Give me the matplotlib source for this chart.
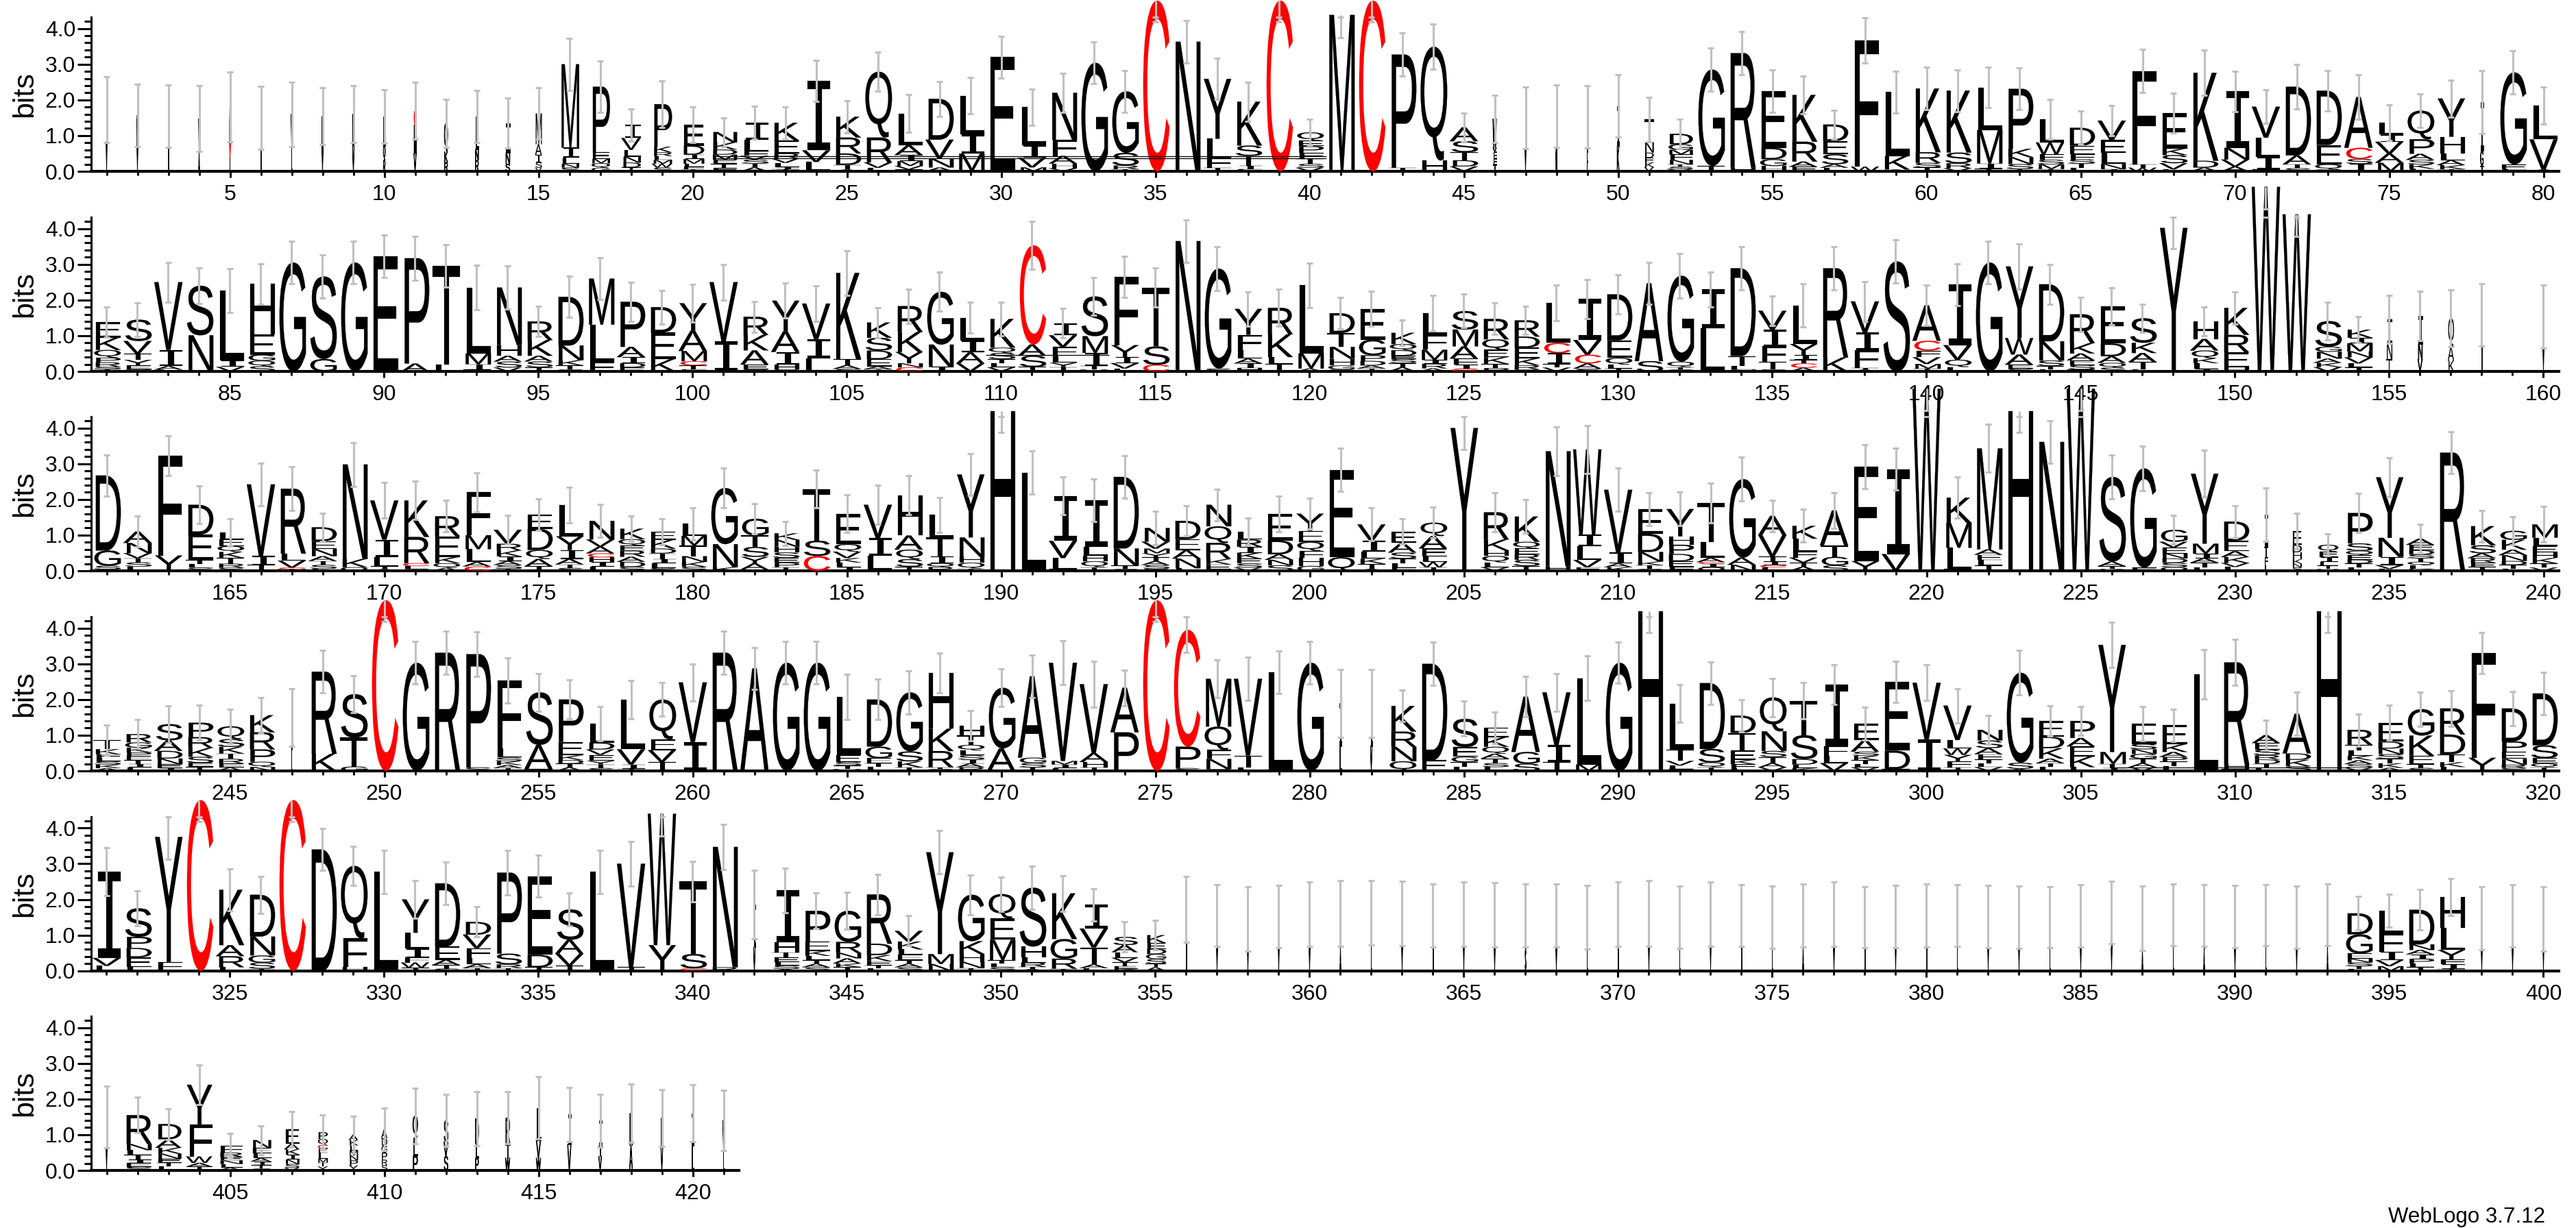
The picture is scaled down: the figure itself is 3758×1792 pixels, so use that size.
import matplotlib
matplotlib.use("Agg")
import matplotlib.pyplot as plt
from matplotlib.font_manager import FontProperties
from matplotlib.patches import PathPatch
from matplotlib.path import Path
from matplotlib.textpath import TextPath
from matplotlib.ticker import FixedLocator, FormatStrFormatter, MultipleLocator

# each stack is written top letter first, number = letter height in bits
STACKS_1 = [
    "L.85 V.8", "M.8 V.7", "L.8 I.7", "V.9 A.5", "C1.38 L.42", "L.9 I.6", "V.9 L.7", "M.8 V.7", "W.9 V.7", "L.8 Q.4 R.3",
    "C.4 M.8 V.5", "Q.8 K.3 R.25", "L.9 N.3 R.3", "I.8 N.3 S.2", "M.85 A.3 I.2 S.15 V.1", "M2.25 I.27 L.17 N.1 S.1", "P1.8 E.18 M.12 Q.12 G.1", "I.33 V.3 L.17 N.15 D.12 T.1", "P1.12 K.15 R.1 L.1 M.1 W.1 S.1", "E.46 D.2 I.1 M.1 L.07 F.05 T.05",
    "N.25 K.17 D.12 M.12 E.1 T.1 F.08", "I.43 L.3 F.12 V.1 S.1 T.1 A.1", "K.42 E.3 R.12 V.1 L.1 I.05 T.05", "I1.92 V.32 L.23 A.03", "K.55 R.42 D.3 T.12 A.05", "Q1.85 R.7 V.15 L.1", "L.88 A.27 I.17 M.13 V.1 T.05", "D1.07 V.49 N.24 A.1", "L1.05 I.52 M.48", "E3.2",
    "L.96 I.32 V.24 M.1", "N1.22 F.42 A.2 H.12 V.08", "G3.04", "G1.7 S.35 R.1 T.06", "C4.78", "N3.62", "Y1.6 L.52 F.25 T.1", "K1.14 S.27 T.25 I.1 L.05", "C4.78", "Q.21 E.14 P.17 F.15 T.13 S.1 V.09",
    "M4.38", "C4.78", "P3.17 T.1", "Q3.15 H.3", "A.34 S.27 T.2 D.15 V.12", "W.8 V.1 E.2 F.15 T.2", "L.9 V.6", "I.9 M.6", "L.9 F.6", "I1.1 K.7",
    "T.55 N.25 D.12 E.12 K.11 V.1", "D.23 G.12 M.1 F.12 N.1 T.05 S.05 V.05", "G2.7 T.15", "R3.2 H.1", "E1.5 D.3 G.18 H.14", "K1.25 R.53 A.14 E.12", "D.37 E.3 S.22 A.08 L.08", "F3.5 W.13", "L1.75 K.37 A.05", "K1.67 R.28 S.12 T.1",
    "K1.62 S.28 R.13 V.08", "L1.15 M.9 I.14 T.07", "P1.57 K.22 N.18 S.13 T.06", "L.5 W.25 F.12 S.1 M.1 T.05", "D.42 E.2 F.12 S.1 T.1 L.08", "V.45 E.3 L.25 N.12 I.05", "F2.6 T.1 W.1", "E.87 K.16 S.2 V.15 L.05", "K2.34 D.18 A.1", "I1.44 N.3 V.18 A.12",
    "V.82 L.51 I.33 T.05", "D1.77 A.23 T.1 S.08", "D1.4 E.5 Q.13 S.05", "A1.36 C.3 S.13 I.2", "L.28 I.17 V.28 A.22 M.2", "Q.67 P.34 A.14 S.11 K.1 L.06", "Y.93 H.4 L.17 A.12 K.1 T.05", "I1.3 G.4 T.15", "G2.6 E.14 L.05", "L.9 V.8 A.05",
]
TOTALS_1 = [
    1.72, 1.57, 1.54, 1.47, 1.8, 1.5, 1.6, 1.54, 1.6, 1.54,
    1.7, 1.35, 1.54, 1.35, 1.62, 3.0, 2.37, 1.3, 1.88, 1.3,
    1.1, 1.36, 1.36, 2.53, 1.53, 2.79, 1.62, 2.03, 2.12, 3.2,
    1.8, 2.2, 3.04, 2.24, 4.78, 3.63, 2.59, 1.95, 4.78, 1.09,
    4.38, 4.78, 3.27, 3.49, 1.23, 1.47, 1.5, 1.55, 1.53, 1.83,
    1.45, 1.05, 2.85, 3.31, 2.25, 2.14, 1.31, 3.67, 2.22, 2.32,
    2.26, 2.35, 2.31, 1.46, 1.22, 1.42, 2.81, 1.63, 2.76, 2.24,
    1.81, 2.37, 2.26, 2.08, 1.36, 1.7, 2.04, 1.94, 2.77, 1.84,
]
ERRS_1 = [
    .92, .87, .87, .92, .98, .88, .9, .8, .79, .75,
    .79, .67, .73, .7, .72, .73, .72, .45, .66, .5,
    .4, .46, .45, .57, .45, .55, .53, .49, .5, .59,
    .51, .55, .58, .58, .6, .59, .57, .54, .6, .36,
    .63, .6, .61, .63, .4, .67, .87, .87, .87, .87,
    .62, .41, .61, .6, .59, .52, .4, .63, .59, .59,
    .59, .57, .58, .56, .47, .43, .6, .56, .63, .57,
    .47, .62, .57, .62, .5, .47, .52, .88, .6, .52,
]

STACKS_2 = [
    "E.34 K.27 Q.17 P.1 R.1 S.05 T.05", "S.52 V.31 T.15 Y.13 E.1 Q.05", "V1.9 I.45 A.1 L.05", "S1.33 N.97", "L1.83 I.16 V.12", "H1.27 E.51 G.15 Q.14 S.13", "G3.05", "S2.26 G.34", "G3.05", "E3.22",
    "P2.95 A.22", "T2.75 L.2", "L1.85 M.3 I.15 T.05", "N1.47 H.27 A.15 S.15 V.1", "R.45 K.38 A.14 S.14 T.1", "D1.22 N.37 K.13 T.1 S.05", "M1.28 L1.05 F.25", "P1.1 A.25 I.15 D.1 E.1", "D.62 E.65 K.3", "Y.67 A.5 M.25 C.1 T.1 E.05",
    "V1.65 I.83", "R.45 K.38 A.35 E.12 S.05", "Y.74 A.5 I.3 H.12 S.05", "V.93 I.5 L.35", "K2.37 T.17 A.1 S.07", "K.36 S.3 D.2 E.17 A.07 T.05", "R.64 K.49 Y.28 N.1 C.1", "G1.42 N.6 I.12", "L.57 I.3 A.28 V.2", "K.7 Q.13 S.15 T.1 L.1 V.1",
    "C2.65 A.3 S.3 T.12", "I.28 V.27 F.22 L.15 Y.1 T.1", "S1.07 M.45 I.35 T.1 V.05", "F1.9 Y.33 I.17 V.15 L.08", "T1.6 S.5 C.18", "N3.65", "G2.8 S.08", "Y.65 F.38 L.22 A.12 I.12 H.08", "R.7 K.6 L.18 T.2", "L1.9 M.42 A.08",
    "D.5 T.35 N.3 H.17 G.1 S.05", "E.82 G.42 P.15 D.12 A.08 T.08", "K.27 Q.15 D.13 E.08 S.1 T.1 A.1", "L.57 F.4 M.27 I.1 R.12 A.08", "S.45 M.41 A.3 F.15 I.1 C.06", "R.49 Q.25 E.18 K.16 T.1 P.08", "R.4 D.27 E.27 K.17 R.1 G.05", "L1.05 C.27 I.28 T.1 V.1", "I1.03 V.37 C.22 A.13 S.07", "D1.23 E.47 Q.18 L.1 T.08",
    "A2.12 S.28", "G2.4 Q.15 T.07 S.05", "I1.1 L1.2", "D2.45 T.28 L.1 N.05", "V.46 I.4 F.38 T.18 S.05", "L1.06 Y.3 I.13 T.1 C.12 A.1", "R2.5 K.39", "V.85 I.48 F.48 T.05 A.05", "S3.08", "A.9 C.25 F.17 V.17 M.12 T.07",
    "I1.66 V.4 Q.2 L.12", "G3.05", "Y1.95 W.45 A.28 E.1 S.08", "D1.57 N.53 S.15 T.1 L.05", "R.76 K.27 A.18 E.12 S.12 T.05", "E.95 D.33 A.17 Q.12 S.1", "S.6 K.25 A.22 T.18 L.05", "Y4.02", "H.36 A.24 Q.16 K.1 L.12 I.05", "K.65 R.42 E.36 H.1",
    "W5.17", "W4.4", "S.6 G.12 N.16 A.1 K.1 V.1", "K.2 I.14 M.2 N.15 V.15 L.1 T.1", "I.6 N.4 T.3", "I.7 N.4 V.3", "Q.8 A.4 K.3", "L.9 I.6", "", "L.9 V.6",
]
TOTALS_2 = [
    1.38, 1.45, 2.5, 2.4, 2.26, 2.45, 3.05, 2.66, 3.05, 3.22,
    3.17, 2.96, 2.35, 2.35, 1.4, 2.09, 2.6, 1.95, 1.8, 1.91,
    2.5, 1.53, 1.98, 1.9, 2.76, 1.37, 1.83, 2.23, 1.5, 1.47,
    3.53, 1.35, 2.1, 2.65, 2.35, 3.65, 2.88, 1.75, 1.78, 2.41,
    1.63, 1.75, 1.08, 1.64, 1.69, 1.47, 1.43, 1.92, 2.03, 2.16,
    2.47, 2.68, 2.3, 2.89, 1.7, 1.85, 2.89, 1.96, 3.08, 1.85,
    2.43, 3.05, 2.94, 2.44, 1.6, 1.82, 1.49, 4.02, 1.4, 1.78,
    5.17, 4.4, 1.41, 1.17, 1.46, 1.55, 1.49, 1.58, 0, 1.54,
]
ERRS_2 = [
    .42, .47, .56, .5, .61, .57, .6, .6, .6, .6,
    .62, .6, .63, .6, .43, .57, .58, .54, .47, .53,
    .5, .43, .49, .5, .62, .42, .48, .55, .43, .47,
    .67, .41, .52, .57, .54, .6, .62, .48, .52, .63,
    .44, .49, .36, .5, .47, .44, .4, .5, .55, .54,
    .58, .62, .49, .61, .42, .6, .6, .56, .6, .57,
    .58, .6, .63, .55, .48, .52, .4, .58, .4, .45,
    .63, .62, .52, .36, .68, .69, .79, .87, 0, .88,
]

STACKS_3 = [
    "D2.1 G.43 S.1 T.04", "A.27 N.24 V.12 T.1 S.1 L.1", "F2.8 Y.43", "D.77 E.65 T.1 L.1 S.08", "L.17 E.17 Q.15 K.15 T.15 R.1 S.08", "V2 I.25 T.17", "R1.85 L.2 V.2 C.04 W.05", "D.35 E.2 N.18 A.12 T.1 S.1 L.05", "N2.66 K.23 Q.1", "V1.08 I.48 L.25 T.08 A.05",
    "K1 R.72 C.08 L.08 S.05", "R.56 E.57 K.17 Q.13 A.08", "F1.17 M.38 L.35 A.12 C.12", "V.36 R.17 K.15 I.12 A.1 S.1 T.05", "E.35 D.52 Q.22 A.18 T.08 S.03", "L.88 Y.38 I.25 A.15 T.1 S.08", "N.47 V.18 A.17 C.1 H.12 I.12 L.1", "K.27 Q.16 E.13 R.16 A.13 D.13 S.1", "E.21 K.24 D.13 T.15 I.12 L.12 S.08", "L.3 M.24 T.26 N.14 K.12 S.1",
    "G1.6 N.66 K.1", "G.41 T.28 S.24 Y.16 A.15 L.03", "K.18 N.18 H.16 S.15 E.13 P.12 T.1", "T1.42 S.42 C.41", "E.81 Q.2 V.17 K.12 L.12 I.1", "V.88 I.46 L.37 T.03", "H.97 A.34 Q.23 S.18 T.1", "L.6 T.5 I.18 Q.1 R.1", "Y1.7 N.52 H.16 Q.16 T.06", "H4.47",
    "L2.75", "I1.23 V.47 L.3 T.05", "I1.27 L.24 H.16 Q.16 T.1", "D1.98 N.47 T.1 S.05", "N.35 V.18 M.12 Y.1 T.1 A.1 S.1 R.05", "D.43 E.26 A.2 N.23 L.06", "N.57 Q.44 R.43 K.14 E.13 A.04", "L.2 R.18 I.15 K.15 E.12 S.1 V.08", "E.68 D.35 A.14 N.14 S.14", "Y.42 E.27 Q.22 F.17 H.2 G.12",
    "E2.45 Q.38", "V.42 I.28 L.18 K.13 T.13 A.05", "E.28 A.24 S.15 T.12 L.1 F.08", "Q.3 A.28 E.18 L.12 W.12 T.08", "Y4.0", "R.75 K.3 H.15 Q.18 L.13 V.1", "K.62 Q.16 E.14 R.14 S.15 T.12", "N3.2 H.12", "W2.34 I.33 L.37 V.2 E.1", "V1.72 I.3 A.1 K.1",
    "E.66 D.49 N.26 K.1 T.1 S.05", "Y.65 H.2 P.22 D.17 E.13 F.1", "T1.11 L.45 A.12 C.05 I.1 Q.1", "G2.2 A.2 N.17", "A.54 V.6 T.14 I.1 C.06 L.1", "K.31 L.31 F.15 V.12 T.1 A.1", "A.9 T.3 G.22 S.14", "E2.65 Y.27", "I2.38 V.47", "W5.1",
    "K.69 M.68 L.58 T.05", "M2.83 A.15 E.15 L.15 T.15", "H4.47", "N3.61", "W5.1", "S2.37 A.13 T.08 K.05", "G2.78 F.07 L.02", "G.33 V.16 E.16 N.14 D.12 S.12 Q.1", "Y1.88 M.27 I.12 A.12 T.12 L.1", "D.49 E.27 A.15 K.15 V.1 L.1",
    "I.9 T.3 F.2 L.18", "E.4 D.2 H.2 K.12 N.1 S.1", "Q.2 E.15 I.15 L.1 T.1 V.05", "P.82 S.2 Q.12 E.12 D.1 T.1 L.1", "Y1.6 N.5 I.22 V.1 L.05", "A.17 E.15 D.12 S.1 T.1 Q.1 L.1 K.05", "R3.31", "K.48 S.2 A.12 R.12 E.1 T.1", "G.23 K.25 A.14 N.15 D.1 T.1 L.05", "M.32 L.2 E.16 H.13 K.13 T.1 V.08",
]
TOTALS_3 = [
    2.67, 1.1, 3.23, 1.85, 1.07, 2.42, 2.3, 1.22, 2.98, 1.97,
    1.97, 1.53, 2.2, 1.15, 1.58, 1.85, 1.4, 1.18, 1.09, 1.32,
    2.32, 1.46, 1.05, 2.29, 1.6, 1.85, 2.12, 1.57, 2.7, 4.47,
    2.75, 2.1, 1.98, 2.63, 1.2, 1.4, 1.85, 1.1, 1.6, 1.6,
    2.83, 1.3, 1.1, 1.35, 4.0, 1.64, 1.52, 3.35, 3.4, 2.27,
    1.72, 1.73, 1.9, 2.57, 1.54, 1.26, 1.69, 2.92, 2.85, 5.1,
    2.05, 3.43, 4.47, 3.61, 5.1, 2.63, 2.87, 1.15, 2.72, 1.38,
    1.58, 1.12, .73, 1.62, 2.62, .9, 3.31, 1.25, 1.12, 1.3,
]
ERRS_3 = [
    .58, .43, .56, .53, .38, .6, .62, .4, .61, .5,
    .54, .44, .54, .4, .44, .5, .46, .35, .36, .45,
    .55, .42, .34, .53, .53, .54, .55, .49, .59, .6,
    .6, .52, .6, .6, .47, .43, .44, .38, .5, .43,
    .6, .46, .36, .43, .6, .54, .47, .68, .67, .6,
    .46, .47, .55, .62, .44, .46, .5, .62, .58, .6,
    .58, .67, .6, .6, .6, .62, .62, .4, .65, .45,
    .75, .5, .31, .54, .55, .41, .59, .44, .4, .5,
]

STACKS_4 = [
    "T.27 K.15 F.1 L.1 S.1 K.1 A.08", "R.23 G.15 K.13 P.1 E.12 T.1 I.1 L.1", "S.43 A.28 D.2 N.15 E.1 I.08", "P.36 R.27 K.22 S.15 E.1 T.1", "Q.33 S.2 K.17 T.14 R.12 E.1 A.09", "K.43 R.43 P.31 Q.13 N.1", "I.9 L.6", "R2.3 K.48", "S1.2 T.8 G.12", "C4.78",
    "G3.03", "R3.31", "P3.17 S.1", "F1.83 L.24 S.1 K.1 A.08 T.08", "S1.45 A.67 T.05", "P1.17 E.37 K.13 D.1 T.1 A.1", "L.53 D.19 V.15 E.17 Y.1 T.1 S.08", "L1.38 V.42 I.12 T.06", "Q1.07 E.29 V.32 T.24", "V1.65 I.8",
    "R3.31", "A2.87", "G3.03", "G3.03", "L1.62 E.2 S.1 T.1 V.05", "D1.22 G.3 E.13 T.1 L.1", "G1.67 S.28 K.17 T.1", "H1.55 K.62 R.45 T.05 S.05", "H.26 T.25 Q.15 L.13 S.12 I.1 A.1 R.1", "G1.67 A.62",
    "A2.27 G.15 S.12 T.1", "V2.75 M.1 I.1 L.08", "V1.93 A.25 H.15 T.1", "A1.25 P1.08", "C4.78", "C3.27 P.6 S.08", "M1.27 Q.62 F.24 N.27 S.05", "V2.15 T.33 L.1", "L2.76", "G3.03",
    "I1.2 L.7", "I1.2 V.7", "K.64 R.38 N.36 Q.24", "D2.68 E.3", "S.7 E.24 G.13 T.12 L.1", "E.24 K.25 Q.18 A.12 T.12 S.1 L.1", "A1.54 G.33 S.2", "V1.47 I.48 T.25", "L2.4 M.18", "G3.03",
    "H4.47", "L1.28 T.32 V.13 L.1 E.05", "D1.8 S.37 Q.13 T.1", "D.47 T.48 E.25 K.12 F.1 L.08", "Q.95 N.55 S.17 T.17 A.12 V.1", "T.96 S.67 D.15 L.1 K.08", "I1.72 F.28 L.2 V.22", "E.45 A.33 S.12 K.12 T.1 L.1 V.1", "E1.87 D.5 T.05", "V1.55 I.87",
    "V.95 L.23 W.18 Y.17 F.17 T.1", "N.28 S.2 A.16 F.14 T.1 L.1 V.1", "G2.55 S.17 A.06", "E.41 D.3 K.27 A.12 T.1 L.1", "P.45 A.22 E.27 K.28 L.1", "Y3 M.33 T.12 I.08", "E.52 S.14 N.12 G.12 T.12 A.1 V.1", "E.49 K.2 A.13 P.12 T.12 L.12", "L2.7", "R2.85 H.14 T.05",
    "A.22 E.18 S.16 R.12 D.12 T.1 L.1", "A1 D.16 K.16 S.12", "H4.47", "R.39 T.15 L.14 K.12 A.1 S.1 V.08", "E.5 D.18 N.15 S.12 T.12 K.12 A.08", "G.71 K.54 E.23 T.1 S.08", "R.66 D.5 T.2 K.12 L.1", "F2.88 Y.36", "D.85 P.27 E.18 N.15 R.08 S.08", "D1.42 S.35 E.15 Q.1 T.1",
]
TOTALS_4 = [
    .87, 1.03, 1.31, 1.35, 1.25, 1.56, 1.5, 2.78, 2.15, 4.78,
    3.03, 3.31, 3.27, 2.53, 2.2, 2.0, 1.32, 2.0, 2.0, 2.48,
    3.31, 2.87, 3.03, 3.03, 2.07, 2.0, 2.2, 2.75, 1.26, 2.33,
    2.65, 3.03, 2.43, 2.33, 4.78, 3.95, 2.58, 2.58, 2.76, 3.03,
    1.9, 1.9, 1.82, 3.0, 1.46, 1.21, 2.08, 2.2, 2.6, 3.03,
    4.47, 1.89, 2.46, 1.55, 2.06, 1.96, 2.42, 1.32, 2.5, 2.47,
    1.83, 1.15, 2.75, 1.4, 1.4, 3.53, 1.32, 1.28, 2.7, 3.04,
    1.0, 1.6, 4.47, 1.15, 1.35, 1.73, 1.75, 3.3, 1.75, 2.17,
]
ERRS_4 = [
    .42, .4, .52, .49, .48, .5, .8, .6, .51, .6,
    .59, .6, .62, .63, .53, .55, .48, .54, .47, .52,
    .6, .58, .59, .59, .63, .57, .6, .56, .42, .53,
    .6, .62, .64, .5, .6, .62, .52, .6, .6, .59,
    .95, .95, .44, .6, .49, .44, .56, .53, .63, .58,
    .6, .53, .6, .45, .54, .51, .56, .46, .58, .5,
    .48, .4, .62, .42, .4, .63, .48, .45, .69, .65,
    .42, .6, .6, .45, .49, .48, .5, .58, .48, .6,
]

STACKS_5 = [
    "I2.42 V.22 L.14", "S.8 P.31 D.26 E.28 L.1", "Y3.5 F.25", "C4.78", "K1.55 A.31 R.31 L.1", "D1.17 N.53 G.2 S.17 T.06", "C4.78", "D3.4", "Q2 F.8 H.1", "L2.77",
    "Y.84 L.4 I.22 F.13 W.13 T.08", "D1.77 E.37 A.15 T.1 S.06", "D.33 V.35 F.25 L.17 A.1 T.07", "P2.27 S.3 R.1 T.08", "E2.2 D.35 T.1", "S.83 A.38 V.33 T.14", "L2.77", "V2.9 T.1", "W3.68 Y.72", "T2.03 S.4 C.07",
    "N3.37 R.1", "I1.2 V.66", "I1.45 H.28 T.15 E.12 L.1 S.1 A.05", "P.86 E.26 K.14 L.12 T.1 A.1 S.1", "G.85 R.3 N.15 A.14 K.1 T.1", "R1.38 D.32 K.17 E.12 T.08 L.07", "V.3 K.22 L.15 E.15 T.1 A.1 S.1", "Y2.85 M.28 N.19", "G1.3 K.36 H.22 N.17 T.08", "Q.68 E.6 M.57 T.1 L.1 S.1",
    "S1.65 H.3 L.15 R.12 T.06 A.05", "K1.28 G.55 R.28 T.06", "I.63 V.5 T.45 A.1 L.07", "S.22 A.19 L.15 V.12 T.1 E.08 K.05", "K.22 E.17 D.14 G.14 S.13 T.1 A.1", "L.9 I.8", "L.9 V.6", "I.8 V.6", "L.8 V.7", "I.9 V.6",
    "L.9 A.7", "V.9 L.7", "I.9 V.7", "L.9 T.7", "A.8 V.7", "L.9 V.6", "I.9 S.6", "L.9 V.6", "A.8 L.7", "V.9 I.6",
    "L.9 V.7", "I.8 L.7", "A.8 V.7", "L.9 I.6", "V.8 L.7", "I.8 A.7", "L.9 V.6", "L.9 T.6", "S.8 V.7", "L.9 I.6",
    "V.8 L.7", "I.8 V.7", "L.8 V.7", "I.8 L.7", "L.9 V.7", "I.9 V.6", "L.9 A.7", "V.8 L.7", "I.9 A.6", "L.9 V.6",
    "I.8 L.7", "L.9 V.7", "I.8 A.7", "D.57 G.52 E.14 N.1 S.1 T.08 L.05", "L.58 F.48 I.22 V.16 M.12", "D.93 N.15 A.12 I.12 P.12 L.1 T.1", "H.8 L.57 Y.24 F.13 I.12 T.05", "L.9 V.6", "I.9 V.6", "L.8 V.7",
]
TOTALS_5 = [
    2.78, 1.75, 3.75, 4.78, 2.27, 2.13, 4.78, 3.4, 2.94, 2.77,
    2.0, 2.45, 1.37, 2.75, 2.65, 1.72, 2.77, 3.0, 4.4, 2.5,
    3.47, 1.86, 2.25, 1.68, 1.68, 2.14, 1.12, 3.32, 2.13, 2.15,
    2.33, 2.17, 1.85, .95, 1.0, 1.72, 1.55, 1.46, 1.52, 1.58,
    1.6, 1.62, 1.6, 1.55, 1.58, 1.57, 1.55, 1.55, 1.5, 1.58,
    1.6, 1.5, 1.58, 1.55, 1.5, 1.55, 1.58, 1.5, 1.52, 1.55,
    1.55, 1.52, 1.5, 1.5, 1.54, 1.63, 1.47, 1.57, 1.55, 1.52,
    1.56, 1.5, 1.57, 1.61, 1.68, 1.71, 2.07, 1.47, 1.54, 1.46,
]
ERRS_5 = [
    .67, .49, .63, .6, .58, .52, .6, .59, .55, .6,
    .53, .59, .42, .62, .59, .46, .6, .62, .62, .57,
    .63, .96, .63, .5, .52, .57, .42, .6, .56, .48,
    .6, .5, .45, .42, .41, .92, .87, .9, .87, .9,
    .92, .9, .9, .88, .9, .9, .88, .88, .9, .9,
    .92, .88, .9, .87, .87, .88, .9, .85, .87, .88,
    .87, .87, .87, .86, .87, .87, .9, .87, .87, .87,
    .86, .87, .87, .47, .46, .56, .52, .88, .88, .9,
]

STACKS_6 = [
    "L.9 V.6", "R.8 N.17 L.13 T.13 I.1 E.1 S.1", "D.39 A.22 K.15 N.13 E.1 T.1 L.1", "Y1.05 F.85 W.17 A.1 T.1", "F.2 R.12 E.1 N.1 L.1 A.08", "N.22 E.15 L.13 A.1 I.1 T.1 S.05", "E.38 A.15 K.14 I.13 N.12 S.1 V.07", "P.17 Q.15 C.1 E.1 L.15 M.1 T.1 Y.1", "A.15 K.15 L.14 M.14 N.14 P.14 Y.14", "A.25 D.2 G.2 P.2 R.15 S.15",
    "Q.6 L.5 P.4", "S.6 V.4 S.4", "D.7 L.4 P.35", "R.7 T.4 W.35", "L.9 V.5 W.35", "I.8 V.7", "I.7 T.3 V.4", "K.9 A.7", "L.8 V.7", "I.9 L.7",
    "V.8 L.6",
]
TOTALS_6 = [
    1.5, 1.55, 1.3, 2.4, .7, .85, 1.15, 1.07, 1.0, 1.15,
    1.53, 1.4, 1.45, 1.47, 1.75, 1.57, 1.4, 1.6, 1.47, 1.6,
    1.4,
]
ERRS_6 = [
    .87, .5, .43, .55, .33, .4, .5, .48, .52, .6,
    .78, .73, .75, .73, .87, .76, .74, .81, .8, .8,
    .84,
]

ROW_STARTS = [1, 81, 161, 241, 321, 401]
ROW_STACKS = [STACKS_1, STACKS_2, STACKS_3, STACKS_4, STACKS_5, STACKS_6]
ROW_TOTALS = [TOTALS_1, TOTALS_2, TOTALS_3, TOTALS_4, TOTALS_5, TOTALS_6]
ROW_ERRS = [ERRS_1, ERRS_2, ERRS_3, ERRS_4, ERRS_5, ERRS_6]

# column width as a fraction of a position, for columns narrower than the usual .92
NARROW = {
    1: .03, 2: .03, 3: .03, 4: .03, 5: .03, 6: .03, 7: .04, 8: .04, 9: .06, 10: .07,
    11: .08, 12: .12, 13: .12, 14: .15, 15: .22, 16: .64, 17: .64, 18: .64, 19: .66, 20: .75,
    21: .88, 46: .12, 47: .03, 48: .03, 49: .02, 50: .08, 51: .32, 52: .85, 78: .1,
    155: .2, 156: .15, 157: .2, 158: .04, 159: 0, 160: .03,
    231: .12, 232: .33, 233: .7, 247: .03, 281: .08, 282: .06, 342: .06, 354: .85, 355: .7,
    356: .03, 357: .03, 358: .03, 359: .03, 360: .03, 361: .03, 362: .03, 363: .03, 364: .03, 365: .03,
    366: .03, 367: .03, 368: .03, 369: .03, 370: .03, 371: .03, 372: .03, 373: .03, 374: .03, 375: .03,
    376: .03, 377: .03, 378: .03, 379: .03, 380: .03, 381: .03, 382: .03, 383: .03, 384: .03, 385: .03,
    386: .03, 387: .03, 388: .03, 389: .03, 390: .03, 391: .03, 392: .03, 393: .03, 398: .03, 399: .03, 400: .03,
    401: .03, 403: .85, 404: .85, 405: .82, 406: .67, 407: .5, 408: .34, 409: .3, 410: .2, 411: .17,
    412: .14, 413: .12, 414: .15, 415: .15, 416: .12, 417: .1, 418: .1, 419: .07, 420: .08, 421: .05,
}

# thin horizontal strays in the stacks: row index, first position, last position, bits
STRAYS = [
    (0, 20.66, 40.54, .42), (0, 20.66, 40.54, .37),
    (1, 109.5, 113.5, .47),
    (3, 306.0, 313.7, .1),
]

Y_MAX = 4.32
W_PX, H_PX = 3758, 1792
BASELINES = [250, 542, 833, 1125, 1416.7, 1708]
LEFT_PX = 133
POS_PX = 45

sans = FontProperties(family="Liberation Sans")
mono = FontProperties(family="DejaVu Sans Mono")
glyphs = {}


def letter_patch(ch, x_left, y_bottom, width, height):
    if ch not in glyphs:
        tp = TextPath((0, 0), ch, size=1, prop=mono if ch == "I" else sans)
        glyphs[ch] = (tp.vertices.copy(), tp.codes.copy())
    verts, codes = glyphs[ch]
    xmin, ymin = verts.min(axis=0)
    xmax, ymax = verts.max(axis=0)
    new = verts.copy()
    new[:, 0] = x_left + (verts[:, 0] - xmin) / (xmax - xmin) * width
    new[:, 1] = y_bottom + (verts[:, 1] - ymin) / (ymax - ymin) * height
    col = "#ff0000" if ch == "C" else "black"
    # very thin columns need the stroke or they fade out
    lw = .6 if width < .2 else .15
    return PathPatch(Path(new, codes), fc=col, ec=col, lw=lw, clip_on=False, zorder=3)


def draw_row(fig, row):
    start = ROW_STARTS[row]
    stacks, totals, errs = ROW_STACKS[row], ROW_TOTALS[row], ROW_ERRS[row]
    n = len(stacks)
    assert len(totals) == n and len(errs) == n
    base = BASELINES[row]
    ax = fig.add_axes([LEFT_PX / W_PX, 1 - base / H_PX, n * POS_PX / W_PX, Y_MAX * 52.1 / H_PX])
    ax.set_xlim(start - .5, start + n - .5)
    ax.set_ylim(0, Y_MAX)
    ax.patch.set_alpha(0)

    for i in range(n):
        pos = start + i
        if totals[i] == 0:
            continue
        width = NARROW.get(pos, .92)
        tokens = [(t[0], float(t[1:])) for t in stacks[i].split()]
        scale = totals[i] / sum(v for _, v in tokens)
        y = totals[i]
        for ch, v in tokens:
            h = v * scale
            y -= h
            ax.add_patch(letter_patch(ch, pos - width / 2, y, width, h))

        low = totals[i] - errs[i]
        high = totals[i] + errs[i]
        cap_high = min(high, Y_MAX)
        stem_high = max(cap_high, totals[i]) if high > Y_MAX else high
        ax.vlines(pos, low, stem_high, color="#c0c0c0", lw=2.2, zorder=4, clip_on=False)
        ax.hlines([low, cap_high], pos - .11, pos + .11, color="#c0c0c0", lw=2.2, zorder=4, clip_on=False)

    for stray_row, x0, x1, bits in STRAYS:
        if stray_row == row:
            ax.hlines(bits, x0, x1, color="black", lw=.9, zorder=3)

    for side in ["top", "right"]:
        ax.spines[side].set_visible(False)
    ax.spines["left"].set_linewidth(2.2)
    ax.spines["bottom"].set_linewidth(3)

    ax.xaxis.set_major_locator(FixedLocator([p for p in range(start, start + n) if p % 5 == 0]))
    ax.xaxis.set_minor_locator(MultipleLocator(1))
    ax.yaxis.set_major_locator(MultipleLocator(1))
    ax.yaxis.set_minor_locator(MultipleLocator(.2))
    ax.yaxis.set_major_formatter(FormatStrFormatter("%.1f"))
    ax.tick_params(axis="x", which="major", length=6.5, width=2.2, pad=7.5, labelsize=23)
    ax.tick_params(axis="x", which="minor", length=4.3, width=2)
    ax.tick_params(axis="y", which="major", length=14.4, width=2.2, pad=2, labelsize=23)
    ax.tick_params(axis="y", which="minor", length=7.2, width=2.2)
    for lab in ax.get_xticklabels() + ax.get_yticklabels():
        lab.set_fontproperties(sans)
        lab.set_fontsize(23)

    fig.text(36 / W_PX, 1 - (base - 112.5) / H_PX, "bits", rotation=90, ha="center", va="center",
             fontproperties=sans, fontsize=31)


def main():
    fig = plt.figure(figsize=(W_PX / 100, H_PX / 100), dpi=100)
    for row in range(len(ROW_STARTS)):
        draw_row(fig, row)
    fig.text(3713 / W_PX, 1 - 1776 / H_PX, "WebLogo 3.7.12", ha="right", va="center",
             fontproperties=sans, fontsize=22.5)
    fig.savefig("out.png", dpi=100)


if __name__ == "__main__":
    main()
